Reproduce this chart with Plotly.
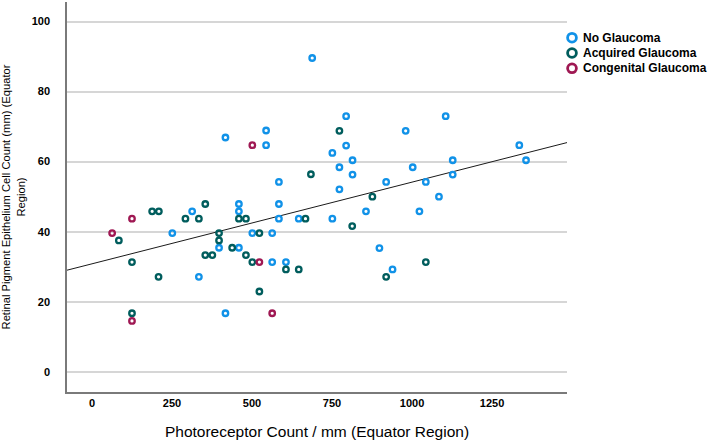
import numpy as np
import plotly.graph_objects as go

# No Glaucoma
no_x = [688, 417, 544, 544, 584, 794, 751, 794, 814, 773, 814, 773, 919, 980, 1105,
        1002, 1043, 1084, 1127, 1127, 1335, 1356, 251, 313, 334, 397, 417, 459, 459,
        459, 501, 563, 563, 584, 584, 606, 646, 751, 856, 1023, 898, 939]
no_y = [89.6, 66.9, 68.9, 64.7, 54.2, 73.0, 62.5, 64.6, 60.4, 58.4, 56.3, 52.1, 54.2,
        68.8, 73.0, 58.4, 54.2, 50.0, 60.4, 56.3, 64.7, 60.4, 39.6, 45.8, 27.1, 35.4,
        16.7, 47.9, 45.8, 35.4, 39.6, 39.6, 31.3, 47.9, 43.7, 31.3, 43.7, 43.7, 45.8,
        45.8, 35.3, 29.2]

# Acquired Glaucoma
acq_x = [684, 773, 876, 84, 188, 209, 125, 208, 125, 292, 334, 354, 354, 376, 397,
         397, 438, 459, 481, 481, 523, 501, 523, 606, 646, 667, 813, 1043, 919]
acq_y = [56.4, 68.8, 50.0, 37.5, 45.8, 45.8, 31.3, 27.1, 16.7, 43.7, 43.7, 47.9, 33.3,
         33.3, 39.6, 37.5, 35.4, 43.7, 43.7, 33.3, 39.6, 31.3, 22.9, 29.2, 29.2, 43.7,
         41.6, 31.3, 27.1]

# Congenital Glaucoma
con_x = [501, 125, 63, 125, 523, 563]
con_y = [64.7, 43.7, 39.6, 14.5, 31.3, 16.7]

series_names = ["No Glaucoma", "Acquired Glaucoma", "Congenital Glaucoma"]
colors = ["#1192e8", "#005d5d", "#9f1853"]
x_ticks = [0, 250, 500, 750, 1000, 1250]
y_ticks = [0, 20, 40, 60, 80, 100]
x_range = [-78, 1484]
y_range = [-5.8, 105.6]

W, H = 708, 442
ML, MR, MT, MB = 67, 141, 2, 50
PW, PH = W - ML - MR, H - MT - MB

fig = go.Figure()

# fit line at total
all_x = np.array(no_x + acq_x + con_x, dtype=float)
all_y = np.array(no_y + acq_y + con_y, dtype=float)
slope, intercept = np.polyfit(all_x, all_y, 1)
fx = np.array(x_range, dtype=float)
fig.add_trace(go.Scatter(x=fx, y=intercept + slope * fx, mode="lines",
                         line=dict(color="#1a1a1a", width=1), showlegend=False,
                         hoverinfo="skip"))

for name, xs, ys, c in zip(series_names, [no_x, acq_x, con_x], [no_y, acq_y, con_y], colors):
    fig.add_trace(go.Scatter(x=xs, y=ys, mode="markers", name=name, showlegend=False,
                             marker=dict(symbol="circle-open", size=5.5, color=c,
                                         line=dict(color=c, width=2.3))))

# legend drawn as shapes + annotations (to match compact row spacing)
leg_cx, leg_tx, leg_y0, leg_dy = 572, 581, 37.7, 15.3
for i, (name, c) in enumerate(zip(series_names, colors)):
    py = leg_y0 + i * leg_dy
    xa = (leg_cx - ML) / PW
    ya = 1 - (py - MT) / PH
    fig.add_shape(type="circle", xref="paper", yref="paper", xsizemode="pixel",
                  ysizemode="pixel", xanchor=xa, yanchor=ya, x0=-4.4, x1=4.4,
                  y0=-4.4, y1=4.4, line=dict(color=c, width=2.8), fillcolor="white")
    fig.add_annotation(x=(leg_tx - ML) / PW, y=ya, xref="paper", yref="paper",
                       xanchor="left", yanchor="middle", text=name, showarrow=False,
                       font=dict(family="Liberation Sans, Arial", size=12,
                                 color="#000000", weight="bold"))

tick_font = dict(family="Liberation Sans Narrow, Liberation Sans, Arial", size=11,
                 color="#000000", weight="bold")

fig.update_layout(
    width=W, height=H,
    margin=dict(l=ML, r=MR, t=MT, b=MB),
    paper_bgcolor="white", plot_bgcolor="white",
    showlegend=False,
    xaxis=dict(range=x_range, tickvals=x_ticks, ticktext=[str(v) for v in x_ticks],
               showgrid=False, zeroline=False, showline=True, linecolor="#7a7a7a",
               linewidth=1.5, ticks="", tickfont=tick_font,
               title=dict(text="Photoreceptor Count / mm (Equator Region)",
                          font=dict(family="Liberation Sans, Arial", size=15.5, color="#000000"),
                          standoff=18),
               automargin=False),
    yaxis=dict(range=y_range, tickvals=y_ticks, ticktext=[str(v) for v in y_ticks],
               showgrid=True, gridcolor="#d6d6d6", gridwidth=1.5, zeroline=False,
               showline=True, linecolor="#7a7a7a", linewidth=1.5,
               ticks="outside", ticklen=13, tickcolor="rgba(0,0,0,0)",
               tickfont=tick_font,
               title=dict(text="Retinal Pigment Epithelium Cell Count (mm) (Equator<br>Region)",
                          font=dict(family="Liberation Sans Narrow, Liberation Sans, Arial",
                                    size=11.2, color="#000000"),
                          standoff=10),
               automargin=False),
)

fig.write_html("out.html", config={"displayModeBar": False},
               post_script="document.body.style.margin='0';")
